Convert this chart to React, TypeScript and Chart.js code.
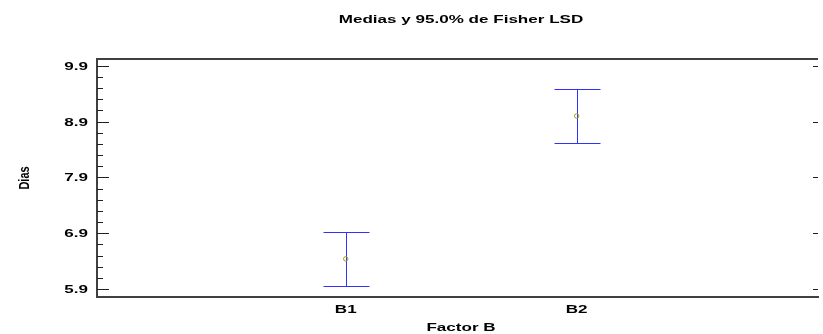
import { useEffect, useRef } from "react";
import { Chart, registerables } from "chart.js";

Chart.register(...registerables);

// ---- data ----
const categories = ["B1", "B2"];
const categoryPositions = [1, 2];
const means = [6.44, 9.0];
const lowerLimits = [5.96, 8.52];
const upperLimits = [6.92, 9.48];
const yTickValues = [5.9, 6.9, 7.9, 8.9, 9.9];
const yTickLabels = ["5.9", "6.9", "7.9", "8.9", "9.9"];
const yMinorStep = 0.2;
const titleText = "Medias y 95.0% de Fisher LSD";
const xTitleText = "Factor B";
const yTitleText = "Dias";

const FONT = 'bold 11px "Liberation Sans", Arial, sans-serif';
const SX = 1.55;

function drawText(
  ctx: CanvasRenderingContext2D,
  text: string,
  x: number,
  y: number,
  align: CanvasTextAlign,
  sx: number,
  rotate = false
) {
  ctx.save();
  ctx.translate(x, y);
  ctx.scale(sx, 1);
  if (rotate) ctx.rotate(-Math.PI / 2);
  ctx.font = FONT;
  ctx.fillStyle = "#000000";
  ctx.textAlign = align;
  ctx.textBaseline = "alphabetic";
  ctx.fillText(text, 0, 0);
  ctx.restore();
}

const framePlugin = {
  id: "lsdFrame",
  beforeDatasetsDraw(chart: any) {
    const { ctx } = chart;
    const xs = chart.scales.x;
    const ys = chart.scales.y;
    categoryPositions.forEach((pos, i) => {
      const px = Math.round(xs.getPixelForValue(pos)) + 0.5;
      const top = Math.round(ys.getPixelForValue(upperLimits[i])) + 0.5;
      const bot = Math.round(ys.getPixelForValue(lowerLimits[i])) + 0.5;
      ctx.save();
      ctx.strokeStyle = "#3232ff";
      ctx.lineWidth = 1;
      ctx.beginPath();
      ctx.moveTo(px, top);
      ctx.lineTo(px, bot);
      ctx.moveTo(px - 23, top);
      ctx.lineTo(px + 23, top);
      ctx.moveTo(px - 23, bot);
      ctx.lineTo(px + 23, bot);
      ctx.stroke();
      ctx.restore();
    });
  },
  afterDraw(chart: any) {
    const { ctx, chartArea } = chart;
    const xs = chart.scales.x;
    const ys = chart.scales.y;
    const { left, right, top, bottom } = chartArea;
    ctx.save();
    // top frame line
    ctx.strokeStyle = "#404040";
    ctx.lineWidth = 2;
    ctx.beginPath();
    ctx.moveTo(left - 1, top);
    ctx.lineTo(right, top);
    ctx.stroke();

    // inward ticks
    ctx.strokeStyle = "#202020";
    ctx.lineWidth = 1;
    ctx.beginPath();
    yTickValues.forEach((v) => {
      const py = Math.round(ys.getPixelForValue(v)) + 0.5;
      ctx.moveTo(left, py);
      ctx.lineTo(left + 12, py);
      ctx.moveTo(right - 5, py);
      ctx.lineTo(right, py);
    });
    const first = yTickValues[0];
    const last = yTickValues[yTickValues.length - 1];
    const nMinor = Math.round((last - first) / yMinorStep);
    for (let k = 1; k < nMinor; k++) {
      const v = first + k * yMinorStep;
      if (yTickValues.some((m) => Math.abs(m - v) < 1e-6)) continue;
      const py = Math.round(ys.getPixelForValue(v)) + 0.5;
      ctx.moveTo(left, py);
      ctx.lineTo(left + 6, py);
    }
    ctx.stroke();
    ctx.restore();

    // y tick labels
    yTickValues.forEach((v, i) => {
      const py = ys.getPixelForValue(v);
      drawText(ctx, yTickLabels[i], left - 9, py + 4, "right", SX);
    });
    // x tick labels
    categoryPositions.forEach((pos, i) => {
      const px = xs.getPixelForValue(pos);
      drawText(ctx, categories[i], px, bottom + 15.5, "center", SX);
    });
    const cx = (left + right + 7) / 2;
    drawText(ctx, titleText, cx, 22.5, "center", SX);
    drawText(ctx, xTitleText, cx, bottom + 33.5, "center", SX);
    drawText(ctx, yTitleText, 28.5, (top + bottom) / 2, "center", 1.35, true);
  },
};

export default function App() {
  const canvasRef = useRef<HTMLCanvasElement | null>(null);

  useEffect(() => {
    const prevMargin = document.body.style.margin;
    document.body.style.margin = "0";
    const canvas = canvasRef.current;
    if (!canvas) return;
    const chart = new Chart(canvas, {
      type: "scatter",
      data: {
        datasets: [
          {
            label: "Medias",
            data: categoryPositions.map((x, i) => ({ x, y: means[i] })),
            pointStyle: "circle",
            pointRadius: 2.2,
            pointBorderWidth: 1,
            pointBorderColor: "#a0a010",
            pointBackgroundColor: "rgba(0,0,0,0)",
            showLine: false,
          },
        ],
      },
      options: {
        animation: false,
        responsive: false,
        devicePixelRatio: 1,
        events: [],
        layout: { padding: { top: 59, right: 0, left: 0, bottom: 0 } },
        plugins: {
          legend: { display: false },
          title: { display: false },
          tooltip: { enabled: false },
        },
        scales: {
          x: {
            type: "linear",
            min: -0.077,
            max: 3.045,
            grid: { display: false, drawTicks: false },
            border: { display: true, color: "#404040", width: 2 },
            ticks: { display: false },
            afterFit: (scale: any) => {
              scale.height = 37;
            },
          },
          y: {
            type: "linear",
            min: 5.757,
            max: 10.02,
            grid: { display: false, drawTicks: false },
            border: { display: true, color: "#404040", width: 2 },
            ticks: { display: false },
            afterFit: (scale: any) => {
              scale.width = 97;
            },
          },
        },
      },
      plugins: [framePlugin],
    });
    return () => {
      chart.destroy();
      document.body.style.margin = prevMargin;
    };
  }, []);

  return (
    <div style={{ width: 823, height: 334, overflow: "hidden", background: "#ffffff" }}>
      <canvas
        ref={canvasRef}
        width={823}
        height={334}
        style={{ display: "block", width: 823, height: 334 }}
      />
    </div>
  );
}
